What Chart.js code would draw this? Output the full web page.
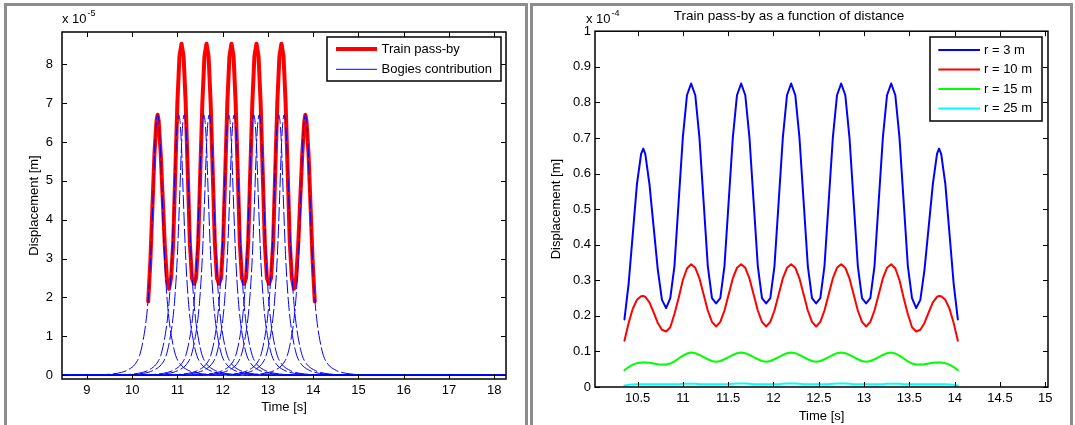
<!DOCTYPE html>
<html>
<head>
<meta charset="utf-8">
<title>Train pass-by</title>
<script src="https://cdn.jsdelivr.net/npm/chart.js@4.4.1/dist/chart.umd.min.js"></script>
<style>
  html, body { margin: 0; padding: 0; background: #fff; }
  #page { position: relative; width: 1075px; height: 425px; overflow: hidden; }
  .frame { position: absolute; top: 3px; height: 440px; box-sizing: border-box;
           border: 3px solid #8c8c8c; border-bottom: none; }
  #frameL { left: 4px; width: 524px; }
  #frameR { left: 530px; width: 543px; }
  canvas { position: absolute; top: 0; }
  #left { left: 0; }
  #right { left: 530px; }
</style>
</head>
<body>
<div id="page">
  <div class="frame" id="frameL"></div>
  <div class="frame" id="frameR"></div>
  <canvas id="left" width="528" height="425"></canvas>
  <canvas id="right" width="545" height="425"></canvas>
</div>
<script>
// --- data -------------------------------------------------------
// time [s] for the pass-by curves
const timeR = [10.355, 10.401, 10.447, 10.493, 10.539, 10.563, 10.585, 10.631, 10.677, 10.723,
  10.769, 10.815, 10.861, 10.907, 10.953, 10.999, 11.045, 11.091, 11.137, 11.183,
  11.229, 11.275, 11.321, 11.367, 11.413, 11.459, 11.505, 11.551, 11.597, 11.643,
  11.689, 11.735, 11.781, 11.827, 11.873, 11.919, 11.965, 12.011, 12.057, 12.103,
  12.149, 12.195, 12.241, 12.287, 12.333, 12.379, 12.425, 12.471, 12.517, 12.563,
  12.609, 12.655, 12.701, 12.747, 12.793, 12.839, 12.885, 12.931, 12.977, 13.023,
  13.069, 13.115, 13.161, 13.207, 13.253, 13.299, 13.345, 13.391, 13.437, 13.483,
  13.529, 13.575, 13.621, 13.667, 13.713, 13.759, 13.805, 13.827, 13.851, 13.897,
  13.943, 13.989, 14.035];

// displacement, x 1e-4 m
const r3 = [0.19, 0.29, 0.43, 0.57, 0.655, 0.67, 0.655, 0.57, 0.45, 0.33,
  0.245, 0.222, 0.25, 0.34, 0.52, 0.70, 0.82, 0.853, 0.82, 0.70,
  0.52, 0.34, 0.25, 0.235, 0.25, 0.34, 0.52, 0.70, 0.82, 0.853,
  0.82, 0.70, 0.52, 0.34, 0.25, 0.235, 0.25, 0.34, 0.52, 0.70,
  0.82, 0.853, 0.82, 0.70, 0.52, 0.34, 0.25, 0.235, 0.25, 0.34,
  0.52, 0.70, 0.82, 0.853, 0.82, 0.70, 0.52, 0.34, 0.25, 0.235,
  0.25, 0.34, 0.52, 0.70, 0.82, 0.853, 0.82, 0.70, 0.52, 0.34,
  0.25, 0.222, 0.245, 0.33, 0.45, 0.57, 0.655, 0.67, 0.655, 0.57,
  0.43, 0.29, 0.19];

const r10 = [0.13, 0.18, 0.22, 0.245, 0.255, 0.256, 0.253, 0.238, 0.21, 0.18,
  0.161, 0.156, 0.168, 0.205, 0.25, 0.30, 0.333, 0.345, 0.335, 0.305,
  0.26, 0.215, 0.183, 0.17, 0.183, 0.215, 0.26, 0.305, 0.335, 0.345,
  0.335, 0.305, 0.26, 0.215, 0.183, 0.17, 0.183, 0.215, 0.26, 0.305,
  0.335, 0.345, 0.335, 0.305, 0.26, 0.215, 0.183, 0.17, 0.183, 0.215,
  0.26, 0.305, 0.335, 0.345, 0.335, 0.305, 0.26, 0.215, 0.183, 0.17,
  0.183, 0.215, 0.26, 0.305, 0.335, 0.345, 0.333, 0.30, 0.25, 0.205,
  0.168, 0.156, 0.161, 0.18, 0.21, 0.238, 0.253, 0.256, 0.255, 0.245,
  0.22, 0.18, 0.13];

const r15 = [0.047, 0.056, 0.063, 0.067, 0.069, 0.069, 0.069, 0.068, 0.066, 0.064,
  0.063, 0.063, 0.066, 0.072, 0.080, 0.088, 0.094, 0.097, 0.095, 0.090,
  0.084, 0.078, 0.073, 0.071, 0.073, 0.078, 0.084, 0.090, 0.095, 0.097,
  0.095, 0.090, 0.084, 0.078, 0.073, 0.071, 0.073, 0.078, 0.084, 0.090,
  0.095, 0.097, 0.095, 0.090, 0.084, 0.078, 0.073, 0.071, 0.073, 0.078,
  0.084, 0.090, 0.095, 0.097, 0.095, 0.090, 0.084, 0.078, 0.073, 0.071,
  0.073, 0.078, 0.084, 0.090, 0.095, 0.097, 0.094, 0.088, 0.080, 0.072,
  0.066, 0.063, 0.063, 0.064, 0.066, 0.068, 0.069, 0.069, 0.069, 0.067,
  0.063, 0.056, 0.047];

const r25 = [0.004, 0.006, 0.007, 0.008, 0.008, 0.008, 0.008, 0.008, 0.008, 0.008,
  0.008, 0.008, 0.008, 0.008, 0.008, 0.009, 0.009, 0.009, 0.009, 0.008,
  0.008, 0.008, 0.008, 0.008, 0.008, 0.008, 0.008, 0.009, 0.010, 0.010,
  0.010, 0.009, 0.008, 0.008, 0.008, 0.008, 0.008, 0.008, 0.008, 0.009,
  0.010, 0.010, 0.010, 0.009, 0.008, 0.008, 0.008, 0.008, 0.008, 0.008,
  0.008, 0.009, 0.010, 0.010, 0.010, 0.009, 0.008, 0.008, 0.008, 0.008,
  0.008, 0.008, 0.008, 0.008, 0.009, 0.009, 0.009, 0.009, 0.008, 0.008,
  0.008, 0.008, 0.008, 0.008, 0.008, 0.008, 0.008, 0.008, 0.008, 0.008,
  0.007, 0.006, 0.004];

// single bogie response (x 1e-5 m) around its passing time
const bogieCentres = [10.563, 11.03, 11.15, 11.583, 11.703, 12.135, 12.255, 12.687, 12.807, 13.239, 13.359, 13.827];
const bogieOffsets = [-7, -1.4, -1.0, -0.8, -0.65, -0.5, -0.4, -0.32, -0.25, -0.2, -0.15, -0.1, -0.06, -0.03, 0,
  0.03, 0.06, 0.1, 0.15, 0.2, 0.25, 0.32, 0.4, 0.5, 0.65, 0.8, 1.0, 1.4, 7];
const bogieShape = [0, 0, 0.03, 0.07, 0.14, 0.28, 0.5, 0.9, 1.45, 2.1, 3.1, 4.6, 5.9, 6.5, 6.7,
  6.5, 5.9, 4.6, 3.1, 2.1, 1.45, 0.9, 0.5, 0.28, 0.14, 0.07, 0.03, 0, 0];

// tick values
const xTicksL = [9, 10, 11, 12, 13, 14, 15, 16, 17, 18];
const yTicksL = [0, 1, 2, 3, 4, 5, 6, 7, 8];
const xTicksR = [10.5, 11, 11.5, 12, 12.5, 13, 13.5, 14, 14.5, 15];
const yTicksR = [0, 0.1, 0.2, 0.3, 0.4, 0.5, 0.6, 0.7, 0.8, 0.9, 1];

// --- look ---------------------------------------------------------
const FONT = '"Liberation Sans", Arial, Helvetica, sans-serif';
Chart.defaults.font.family = FONT;
Chart.defaults.font.size = 13;
Chart.defaults.color = '#000';
Chart.defaults.elements.line.borderJoinStyle = 'round';
Chart.defaults.elements.line.borderCapStyle = 'round';

// matlab style box, inward ticks, exponent label and legend
const matlabAxes = {
  id: 'matlabAxes',
  afterDraw(chart, args, opts) {
    const { ctx, chartArea: a } = chart;
    const x = chart.scales.x, y = chart.scales.y;
    ctx.save();
    ctx.strokeStyle = '#000';
    ctx.lineWidth = 1;
    ctx.beginPath();
    x.ticks.forEach(t => {
      const px = Math.round(x.getPixelForValue(t.value)) + 0.5;
      ctx.moveTo(px, a.bottom); ctx.lineTo(px, a.bottom - opts.tickLen);
      ctx.moveTo(px, a.top); ctx.lineTo(px, a.top + opts.tickLen);
    });
    y.ticks.forEach(t => {
      const py = Math.round(y.getPixelForValue(t.value)) + 0.5;
      ctx.moveTo(a.left, py); ctx.lineTo(a.left + opts.tickLen, py);
      ctx.moveTo(a.right, py); ctx.lineTo(a.right - opts.tickLen, py);
    });
    ctx.stroke();
    ctx.lineWidth = 1.5;
    ctx.strokeRect(a.left, a.top, a.right - a.left, a.bottom - a.top);

    // "x 10^n" above the y axis
    ctx.fillStyle = '#000';
    ctx.textAlign = 'left';
    ctx.textBaseline = 'middle';
    ctx.font = '13px ' + FONT;
    const ex = a.left + opts.expDx;
    ctx.fillText('x 10', ex, 19);
    const w = ctx.measureText('x 10').width;
    ctx.font = '9px ' + FONT;
    ctx.fillText(opts.exponent, ex + w + 1, 13.5);

    // legend
    const L = opts.legend;
    ctx.fillStyle = '#fff';
    ctx.fillRect(L.x, L.y, L.w, L.h);
    ctx.strokeStyle = '#000';
    ctx.lineWidth = 1.5;
    ctx.strokeRect(L.x, L.y, L.w, L.h);
    ctx.font = '13px ' + FONT;
    L.items.forEach((idx, k) => {
      const ds = chart.data.datasets[idx];
      const ry = L.y + L.row0 + k * L.rowH;
      ctx.strokeStyle = ds.borderColor;
      ctx.lineWidth = ds.borderWidth;
      ctx.lineCap = 'butt';
      ctx.beginPath();
      ctx.moveTo(L.x + L.line0, ry);
      ctx.lineTo(L.x + L.line1, ry);
      ctx.stroke();
      ctx.fillStyle = '#000';
      ctx.fillText(ds.label, L.x + L.text, ry);
    });
    ctx.restore();
  }
};

const fmt = v => String(Math.round(v * 10) / 10);

// --- left: train pass-by and bogies ------------------------------
const bogieSets = bogieCentres.map(c => ({
  label: 'Bogies contribution',
  data: bogieOffsets.map((o, i) => ({ x: c + o, y: bogieShape[i] })),
  borderColor: '#0000ff',
  borderWidth: 1,
  borderDash: [14, 3],
  borderCapStyle: 'butt',
  pointRadius: 0,
  cubicInterpolationMode: 'monotone',
  order: 0
}));

const trainSet = {
  label: 'Train pass-by',
  data: timeR.map((t, i) => ({ x: t, y: r3[i] * 10 })),
  borderColor: '#ff0000',
  borderWidth: 4,
  pointRadius: 0,
  order: 1
};

new Chart(document.getElementById('left'), {
  type: 'line',
  data: { datasets: [...bogieSets, trainSet] },
  options: {
    responsive: false,
    animation: false,
    events: [],
    layout: { padding: { left: 0, right: 22, top: 32, bottom: 0 } },
    plugins: {
      legend: { display: false },
      tooltip: { enabled: false },
      matlabAxes: {
        tickLen: 5, exponent: '-5', expDx: 0,
        legend: { x: 327, y: 37, w: 174, h: 44, row0: 12, rowH: 20.3, line0: 9, line1: 50, text: 54.5,
                  items: [bogieSets.length, 0] }
      }
    },
    scales: {
      x: {
        type: 'linear', min: 8.45, max: 18.26,
        grid: { display: false, drawTicks: false }, border: { display: false },
        ticks: { padding: 4, autoSkip: false, maxRotation: 0, includeBounds: false, callback: fmt },
        afterBuildTicks: s => { s.ticks = xTicksL.map(v => ({ value: v })); },
        afterFit: s => { s.height = 46; },
        title: { display: true, text: 'Time [s]', padding: { top: 0, bottom: 10 } }
      },
      y: {
        type: 'linear', min: -0.1, max: 8.83,
        grid: { display: false, drawTicks: false }, border: { display: false },
        ticks: { padding: 9, autoSkip: false, includeBounds: false, callback: fmt },
        afterBuildTicks: s => { s.ticks = yTicksL.map(v => ({ value: v })); },
        afterFit: s => { s.width = 62; },
        title: { display: true, text: 'Displacement [m]', padding: { top: 27, bottom: 0 } }
      }
    }
  },
  plugins: [matlabAxes]
});

// --- right: pass-by at several distances -------------------------
const line = (label, values, color) => ({
  label,
  data: timeR.map((t, i) => ({ x: t, y: values[i] })),
  borderColor: color,
  borderWidth: 2,
  pointRadius: 0
});

new Chart(document.getElementById('right'), {
  type: 'line',
  data: {
    datasets: [
      line('r = 3 m', r3, '#0000ff'),
      line('r = 10 m', r10, '#ff0000'),
      line('r = 15 m', r15, '#00ff00'),
      line('r = 25 m', r25, '#00ffff')
    ]
  },
  options: {
    responsive: false,
    animation: false,
    events: [],
    layout: { padding: { left: 0, right: 27, top: 0, bottom: 0 } },
    plugins: {
      legend: { display: false },
      tooltip: { enabled: false },
      title: {
        display: true, text: 'Train pass-by as a function of distance',
        font: { size: 13.5, weight: 'normal' }, color: '#000',
        padding: { top: 8, bottom: 7 }
      },
      matlabAxes: {
        tickLen: 5, exponent: '-4', expDx: -9,
        legend: { x: 400, y: 37, w: 112, h: 84, row0: 13, rowH: 19.5, line0: 8.3, line1: 50, text: 54,
                  items: [0, 1, 2, 3] }
      }
    },
    scales: {
      x: {
        type: 'linear', min: 10.03, max: 15.03,
        grid: { display: false, drawTicks: false }, border: { display: false },
        ticks: { padding: 4, autoSkip: false, maxRotation: 0, includeBounds: false, callback: fmt },
        afterBuildTicks: s => { s.ticks = xTicksR.map(v => ({ value: v })); },
        afterFit: s => { s.height = 38; },
        title: { display: true, text: 'Time [s]', padding: { top: 0, bottom: 1 } }
      },
      y: {
        type: 'linear', min: 0, max: 1,
        grid: { display: false, drawTicks: false }, border: { display: false },
        ticks: { padding: 4, autoSkip: false, includeBounds: false, callback: fmt },
        afterBuildTicks: s => { s.ticks = yTicksR.map(v => ({ value: v })); },
        afterFit: s => { s.width = 65; },
        title: { display: true, text: 'Displacement [m]', padding: { top: 19, bottom: 0 } }
      }
    }
  },
  plugins: [matlabAxes]
});
</script>
</body>
</html>
